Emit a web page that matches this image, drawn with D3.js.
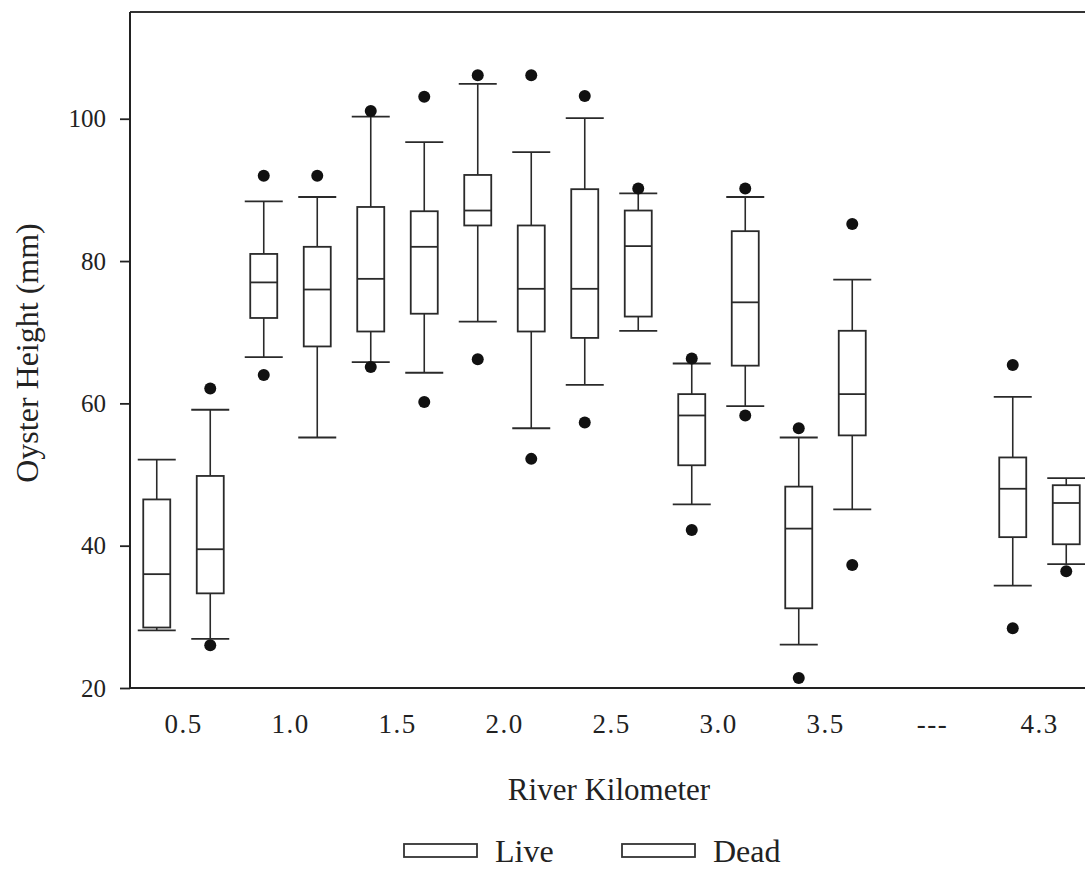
<!DOCTYPE html>
<html>
<head>
<meta charset="utf-8">
<script src="https://cdn.jsdelivr.net/npm/d3@7"></script>
<style>
  html, body { margin: 0; padding: 0; background: #fff; }
  svg { display: block; font-family: "Liberation Serif", "Times New Roman", serif; }
</style>
</head>
<body>
<svg id="chart" width="1085" height="869"></svg>
<script>
// ---- data ----
const categories = ["0.5", "1.0", "1.5", "2.0", "2.5", "3.0", "3.5", "---", "4.3"];
const seriesNames = ["Live", "Dead"];
// [lower whisker, Q1, median, Q3, upper whisker]
const liveStats = [
  [28.1, 28.5, 36.0, 46.5, 52.1],
  [66.5, 72.0, 77.0, 81.0, 88.4],
  [65.8, 70.1, 77.5, 87.6, 100.3],
  [71.5, 85.0, 87.1, 92.1, 104.9],
  [62.6, 69.2, 76.1, 90.1, 100.1],
  [45.8, 51.3, 58.3, 61.3, 65.6],
  [26.1, 31.2, 42.4, 48.3, 55.2],
  null,
  [34.4, 41.2, 48.0, 52.4, 60.9]
];
const liveOutliers = [
  [], [64.0, 92.0], [65.1, 101.1], [66.2, 106.1], [57.3, 103.2],
  [42.2, 66.3], [21.4, 56.5], [], [28.4, 65.4]
];
const deadStats = [
  [26.9, 33.3, 39.5, 49.8, 59.1],
  [55.2, 68.0, 76.0, 82.0, 89.0],
  [64.3, 72.6, 82.0, 87.0, 96.7],
  [56.5, 70.1, 76.1, 85.0, 95.3],
  [70.2, 72.2, 82.1, 87.1, 89.5],
  [59.6, 65.3, 74.2, 84.2, 89.0],
  [45.1, 55.5, 61.3, 70.2, 77.4],
  null,
  [37.4, 40.2, 46.0, 48.5, 49.5]
];
const deadOutliers = [
  [26.0, 62.1], [92.0], [60.2, 103.1], [52.2, 106.1], [90.2],
  [58.3, 90.2], [37.3, 85.2], [], [36.4]
];
const yTicks = [20, 40, 60, 80, 100];

// ---- layout ----
const svg = d3.select("#chart");
const padLeft = 130, padTop = 12, padBottom = 688, padRight = 1093;

const x = d3.scaleBand().domain(categories).range([padLeft, padRight]).padding(0);
const xs = d3.scaleBand().domain(seriesNames).range([0, x.bandwidth()]).padding(0);
const y = d3.scaleLinear().domain([20, 115]).range([padBottom, padTop]);

const boxW = 27, capW = 38, stroke = "#2a2a2a";

// frame top line
svg.append("line").attr("x1", padLeft).attr("x2", 1085).attr("y1", padTop).attr("y2", padTop)
  .attr("stroke", "#333").attr("stroke-width", 2);

// y axis
const yAxis = svg.append("g").attr("transform", `translate(${padLeft},0)`)
  .call(d3.axisLeft(y).tickValues(yTicks).tickSize(10).tickPadding(14).tickFormat(d3.format("d")));
yAxis.select(".domain").attr("stroke", "#222").attr("stroke-width", 2)
  .attr("d", `M0,${padTop}V${padBottom}`);
yAxis.selectAll(".tick line").attr("stroke", "#222").attr("stroke-width", 1.8);
yAxis.selectAll(".tick text").attr("font-size", 25).attr("fill", "#222")
  .attr("font-family", "Liberation Serif, serif");

// x axis
const xAxis = svg.append("g").attr("transform", `translate(0,${padBottom})`)
  .call(d3.axisBottom(x).tickSize(0).tickPadding(26));
xAxis.select(".domain").attr("stroke", "#222").attr("stroke-width", 2)
  .attr("d", `M${padLeft},0H1085`);
xAxis.selectAll(".tick text").attr("font-size", 27).attr("letter-spacing", 1.5).attr("fill", "#222")
  .attr("font-family", "Liberation Serif, serif");

// boxes
function drawSeries(name, stats, outliers) {
  const g = svg.append("g");
  categories.forEach((c, i) => {
    const cx = x(c) + xs(name) + xs.bandwidth() / 2;
    const s = stats[i];
    if (s) {
      const [lo, q1, med, q3, hi] = s;
      g.append("line").attr("x1", cx).attr("x2", cx).attr("y1", y(hi)).attr("y2", y(q3))
        .attr("stroke", stroke).attr("stroke-width", 1.6);
      g.append("line").attr("x1", cx).attr("x2", cx).attr("y1", y(q1)).attr("y2", y(lo))
        .attr("stroke", stroke).attr("stroke-width", 1.6);
      [lo, hi].forEach(v => g.append("line")
        .attr("x1", cx - capW / 2).attr("x2", cx + capW / 2)
        .attr("y1", y(v)).attr("y2", y(v))
        .attr("stroke", stroke).attr("stroke-width", 1.8));
      g.append("rect").attr("x", cx - boxW / 2).attr("width", boxW)
        .attr("y", y(q3)).attr("height", y(q1) - y(q3))
        .attr("fill", "#fff").attr("stroke", stroke).attr("stroke-width", 1.8);
      g.append("line").attr("x1", cx - boxW / 2).attr("x2", cx + boxW / 2)
        .attr("y1", y(med)).attr("y2", y(med))
        .attr("stroke", stroke).attr("stroke-width", 1.8);
    }
    outliers[i].forEach(v => g.append("circle")
      .attr("cx", cx).attr("cy", y(v)).attr("r", 6).attr("fill", "#111"));
  });
}
drawSeries("Live", liveStats, liveOutliers);
drawSeries("Dead", deadStats, deadOutliers);

// axis titles
svg.append("text").attr("x", 609).attr("y", 800).attr("text-anchor", "middle")
  .attr("font-size", 31).attr("fill", "#222").text("River Kilometer");
svg.append("text").attr("transform", "translate(38,353) rotate(-90)")
  .attr("text-anchor", "middle").attr("font-size", 32).attr("fill", "#222")
  .text("Oyster Height (mm)");

// legend
const legendX = [404, 622];
seriesNames.forEach((n, i) => {
  svg.append("rect").attr("x", legendX[i]).attr("y", 844).attr("width", 73).attr("height", 13)
    .attr("fill", "#fff").attr("stroke", "#333").attr("stroke-width", 1.8);
  svg.append("text").attr("x", legendX[i] + 91).attr("y", 862)
    .attr("font-size", 32).attr("fill", "#222").text(n);
});
</script>
</body>
</html>
